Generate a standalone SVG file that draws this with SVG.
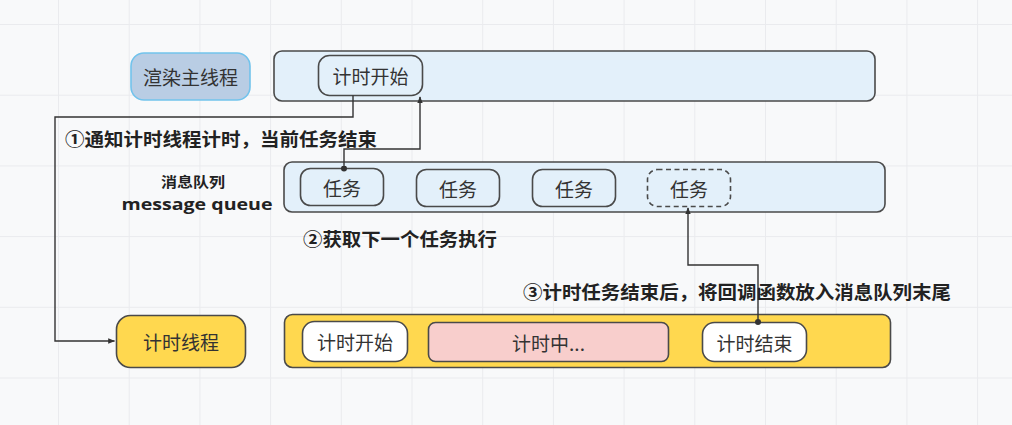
<svg xmlns="http://www.w3.org/2000/svg" width="1012" height="425" viewBox="0 0 1012 425">
<style>
.t{font-family:"Noto Sans CJK SC","Microsoft YaHei",sans-serif;font-size:19px;fill:#333;text-anchor:middle;dominant-baseline:central}
.b{font-family:"Noto Sans CJK SC",sans-serif;font-size:18.5px;font-weight:bold;fill:#222;dominant-baseline:central}
.box{stroke:#4a4a4a;stroke-width:1.6}
.blue{fill:#e3f0fa}
.yel{fill:#ffd84f}
.wht{fill:#ffffff}
.conn{fill:none;stroke:#333;stroke-width:1.4}
</style>
<defs>
<pattern id="grid" patternUnits="userSpaceOnUse" x="58" y="24" width="70.7" height="70.7">
<path d="M0 0.5H70.7M0.5 0V70.7" stroke="#eaebee" stroke-width="1" fill="none"/>
</pattern>
<marker id="arr" viewBox="0 0 10 10" refX="9" refY="5" markerWidth="7" markerHeight="7" orient="auto" markerUnits="userSpaceOnUse">
<path d="M0 1L10 5L0 9Z" fill="#333"/>
</marker>
<marker id="dot" viewBox="0 0 10 10" refX="5" refY="5" markerWidth="6" markerHeight="6" markerUnits="userSpaceOnUse">
<circle cx="5" cy="5" r="5" fill="#333"/>
</marker>
</defs>
<rect width="1012" height="425" fill="#f8f9fa"/>
<rect width="1012" height="425" fill="url(#grid)"/>

<g id="main-thread-label">
<rect x="131" y="53" width="119" height="47" rx="13" fill="#b9cde4" stroke="#72c3ec" stroke-width="1.6"/>
<text class="t" x="190.5" y="76.5">渲染主线程</text>
</g>
<g id="main-thread">
<rect class="box blue" x="274" y="51" width="601" height="50" rx="8"/>
</g>
<g id="main-timer-start">
<rect class="box blue" x="318.5" y="55.5" width="104" height="40" rx="11"/>
<text class="t" x="370.5" y="75.5">计时开始</text>
</g>

<g id="queue-label">
<text x="193" y="180.5" font-family="Noto Sans CJK SC,sans-serif" font-size="14" font-weight="bold" fill="#222" text-anchor="middle" dominant-baseline="central" textLength="64" lengthAdjust="spacingAndGlyphs">消息队列</text>
<text x="197" y="203" font-family="Open Sans,sans-serif" font-size="16.5" font-weight="bold" fill="#222" text-anchor="middle" dominant-baseline="central" textLength="151" lengthAdjust="spacingAndGlyphs">message queue</text>
</g>
<g id="message-queue">
<rect class="box blue" x="284" y="162" width="601" height="50" rx="8"/>
</g>
<g id="task1">
<rect class="box blue" x="300.5" y="168.5" width="83" height="37" rx="10"/>
<text class="t" x="342" y="187">任务</text>
</g>
<g id="task2">
<rect class="box blue" x="416.5" y="169.5" width="83" height="37" rx="10"/>
<text class="t" x="458" y="188">任务</text>
</g>
<g id="task3">
<rect class="box blue" x="532.5" y="169.5" width="83" height="37" rx="10"/>
<text class="t" x="574" y="188">任务</text>
</g>
<g id="task4">
<rect class="box blue" x="647.5" y="169.5" width="83" height="37" rx="10" stroke-dasharray="5 3.5"/>
<text class="t" x="689" y="188">任务</text>
</g>

<g id="timer-thread-label">
<rect class="box yel" x="116.5" y="315.5" width="129" height="52" rx="14"/>
<text class="t" x="181" y="341.5">计时线程</text>
</g>
<g id="timer-thread">
<rect class="box yel" x="284.5" y="314.5" width="606" height="53" rx="8"/>
</g>
<g id="timer-start">
<rect class="box wht" x="302.5" y="321.5" width="105" height="40" rx="12"/>
<text class="t" x="355" y="341.5">计时开始</text>
</g>
<g id="timing">
<rect class="box" fill="#f8cecc" x="428.5" y="322.5" width="240" height="39" rx="7"/>
<text class="t" x="548.5" y="342">计时中...</text>
</g>
<g id="timer-end">
<rect class="box wht" x="702.5" y="322.5" width="104" height="39" rx="12"/>
<text class="t" x="754.5" y="342">计时结束</text>
</g>

<g id="connectors">
<path class="conn" d="M353 95.5V117H55V341H114.5" marker-end="url(#arr)"/>
<path class="conn" d="M344 168.5V149H420V97" marker-start="url(#dot)" marker-end="url(#arr)"/>
<path class="conn" d="M758 322V265H688V208" marker-start="url(#dot)" marker-end="url(#arr)"/>
</g>

<g id="labels">
<text class="b" x="65" y="137.5" textLength="312" lengthAdjust="spacingAndGlyphs">①通知计时线程计时，当前任务结束</text>
<text class="b" x="303" y="238" textLength="194" lengthAdjust="spacingAndGlyphs">②获取下一个任务执行</text>
<text class="b" x="523" y="291" textLength="428" lengthAdjust="spacingAndGlyphs">③计时任务结束后，将回调函数放入消息队列末尾</text>
</g>
</svg>
